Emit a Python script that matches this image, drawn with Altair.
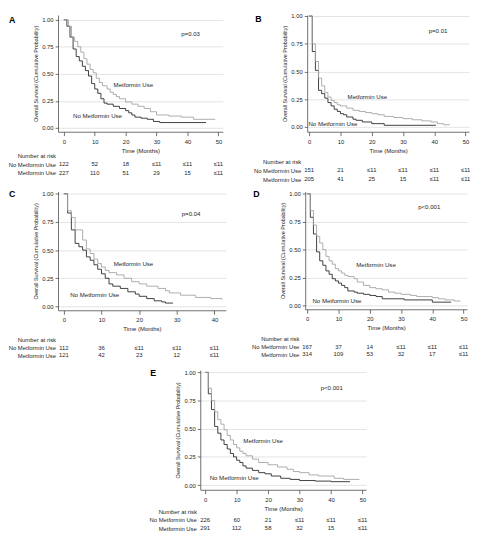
import altair as alt
import pandas as pd

# ------------------------------------------------------------------ data
GROUPS = ["No Metformin Use", "Metformin Use"]
RISK_ROWS = ["Number at risk", "No Metformin Use", "Metformin Use"]
Y_TICKS = [0, 0.25, 0.5, 0.75, 1.0]
Y_TITLE = "Overall Survival (Cumulative Probability)"
X_TITLE = "Time (Months)"
LABELS = ["Metformin Use", "No Metformin Use"]

# Panel A
A_no_t = [0, 1, 2, 3, 4, 5, 6, 7, 8, 9, 10, 11, 12, 13, 14, 16, 18, 20, 21, 22, 23, 25, 27, 29, 31, 46]
A_no_s = [1.0, 0.94, 0.84, 0.73, 0.66, 0.62, 0.57, 0.53, 0.48, 0.41, 0.36, 0.32, 0.27, 0.23, 0.22, 0.20, 0.18, 0.16, 0.14, 0.12, 0.10, 0.09, 0.08, 0.06, 0.05, 0.05]
A_met_t = [0, 1.5, 2.5, 3.5, 4.5, 5.5, 6.5, 7.5, 8.5, 9.5, 10.5, 11.5, 12.5, 14, 15, 16, 17, 18, 20, 22, 24, 26, 28, 30, 34, 38, 42, 49]
A_met_s = [1.0, 0.94, 0.84, 0.80, 0.75, 0.70, 0.64, 0.59, 0.54, 0.51, 0.46, 0.42, 0.39, 0.36, 0.33, 0.31, 0.29, 0.27, 0.24, 0.22, 0.20, 0.18, 0.15, 0.12, 0.11, 0.10, 0.08, 0.08]
A_risk_t = [0, 10, 20, 30, 40, 50]
A_risk_no = ["122", "52", "18", "≤11", "≤11", "≤11"]
A_risk_met = ["227", "110", "51", "29", "15", "≤11"]
A_p = "p=0.03"
A_note_x = [41.0, 22.5, 10.9]
A_note_y = [0.87, 0.395, 0.114]

# Panel B
B_no_t = [0, 1, 2, 3, 4, 5, 6, 7, 8, 9, 10, 11, 12, 14, 15, 17, 20, 24, 40.5]
B_no_s = [1.0, 0.68, 0.51, 0.33, 0.30, 0.26, 0.22, 0.19, 0.16, 0.14, 0.12, 0.11, 0.09, 0.07, 0.06, 0.045, 0.03, 0.015, 0.015]
B_met_t = [0, 1, 2, 3, 4, 5, 6, 7, 8, 9, 10, 12, 14, 16, 18, 20, 22, 24, 27, 30, 33, 36, 39, 41, 43, 45]
B_met_s = [1.0, 0.75, 0.59, 0.44, 0.37, 0.31, 0.27, 0.24, 0.22, 0.20, 0.19, 0.17, 0.15, 0.14, 0.13, 0.12, 0.11, 0.095, 0.085, 0.075, 0.065, 0.055, 0.045, 0.03, 0.02, 0.02]
B_risk_t = [0, 10, 20, 30, 40, 50]
B_risk_no = ["151", "21", "≤11", "≤11", "≤11", "≤11"]
B_risk_met = ["205", "41", "25", "15", "≤11", "≤11"]
B_p = "p=0.01"
B_note_x = [41.2, 18.6, 7.6]
B_note_y = [0.863, 0.274, 0.026]

# Panel C
C_no_t = [0, 1, 2, 3, 4, 5, 6, 7, 8, 9, 10, 11, 12, 13, 15, 17, 19, 20, 22, 24, 26, 27, 29]
C_no_s = [1.0, 0.83, 0.68, 0.56, 0.53, 0.50, 0.44, 0.41, 0.37, 0.33, 0.29, 0.25, 0.20, 0.18, 0.16, 0.13, 0.11, 0.09, 0.07, 0.05, 0.04, 0.03, 0.03]
C_met_t = [0, 1, 2, 3, 5, 6, 7, 8, 9, 10, 11, 12, 14, 16, 18, 20, 22, 25, 27, 28, 31, 35, 39, 42]
C_met_s = [1.0, 0.85, 0.79, 0.68, 0.59, 0.51, 0.47, 0.42, 0.38, 0.35, 0.32, 0.30, 0.28, 0.25, 0.22, 0.20, 0.18, 0.16, 0.14, 0.12, 0.10, 0.08, 0.07, 0.06]
C_risk_t = [0, 10, 20, 30, 40]
C_risk_no = ["112", "36", "≤11", "≤11", "≤11"]
C_risk_met = ["121", "42", "23", "12", "≤11"]
C_p = "p=0.04"
C_note_x = [33.8, 18.5, 8.2]
C_note_y = [0.82, 0.38, 0.10]

# Panel D
D_no_t = [0, 1, 2, 3, 4, 5, 6, 7, 8, 9, 10, 11, 12, 13, 15, 16, 18, 20, 22, 24, 31, 40, 46]
D_no_s = [1.0, 0.79, 0.64, 0.48, 0.40, 0.36, 0.31, 0.28, 0.24, 0.22, 0.20, 0.18, 0.16, 0.13, 0.12, 0.11, 0.10, 0.09, 0.08, 0.06, 0.05, 0.03, 0.03]
D_met_t = [0, 1, 2, 3, 4, 5, 6, 7, 8, 9, 10, 11, 12, 13, 15, 16, 18, 20, 22, 24, 26, 28, 30, 33, 35, 40, 42, 44, 47, 49]
D_met_s = [1.0, 0.85, 0.72, 0.62, 0.56, 0.50, 0.44, 0.40, 0.37, 0.33, 0.31, 0.29, 0.27, 0.26, 0.24, 0.21, 0.18, 0.16, 0.15, 0.14, 0.12, 0.11, 0.10, 0.09, 0.08, 0.07, 0.06, 0.05, 0.04, 0.04]
D_risk_t = [0, 10, 20, 30, 40, 50]
D_risk_no = ["167", "37", "14", "≤11", "≤11", "≤11"]
D_risk_met = ["314", "109", "53", "32", "17", "≤11"]
D_p = "p<0.001"
D_note_x = [39.0, 22.0, 9.5]
D_note_y = [0.88, 0.36, 0.043]

# Panel E
E_no_t = [0, 1, 2, 3, 4, 5, 6, 7, 8, 9, 10, 11, 12, 13, 15, 17, 19, 21, 24, 27, 30, 35, 40, 46]
E_no_s = [1.0, 0.81, 0.67, 0.52, 0.46, 0.40, 0.36, 0.32, 0.28, 0.25, 0.22, 0.20, 0.17, 0.15, 0.13, 0.11, 0.10, 0.08, 0.06, 0.05, 0.04, 0.035, 0.03, 0.03]
E_met_t = [0, 1, 2, 3, 4, 5, 6, 7, 8, 9, 10, 11, 12, 13, 15, 17, 20, 23, 26, 28, 30, 33, 36, 41, 44, 49]
E_met_s = [1.0, 0.86, 0.75, 0.65, 0.58, 0.54, 0.49, 0.44, 0.40, 0.36, 0.33, 0.30, 0.28, 0.26, 0.23, 0.20, 0.18, 0.16, 0.14, 0.12, 0.11, 0.09, 0.08, 0.06, 0.05, 0.05]
E_risk_t = [0, 10, 20, 30, 40, 50]
E_risk_no = ["226", "60", "21", "≤11", "≤11", "≤11"]
E_risk_met = ["291", "112", "58", "32", "15", "≤11"]
E_p = "p<0.001"
E_note_x = [40.2, 18.4, 9.2]
E_note_y = [0.864, 0.39, 0.06]

# ------------------------------------------------------------------ style
FONT = "Liberation Sans"
TXT = "#1e1e1e"
DARK = "#2a2a2a"
LIGHT = "#a3a3a3"
AXC = "#4a4a4a"
GRIDC = "#d0d0d0"

# w/h: plot size; step: risk row pitch; rs: gap plot->risk; ty: "Time" title offset
# lpad: risk label padding; ldx/ldy: panel-letter offset from the (start, 1.00) corner
LAYOUT = {
    "A": dict(xdom=[-1.87, 51.43], w=168, ydom=[-0.035, 1.044], h=119, step=8.7, rs=2.9, ty=-0.5, lpad=2.5, ldx=-50, ldy=0.3),
    "B": dict(xdom=[-0.63, 51.1], w=165, ydom=[-0.043, 1.009], h=119, step=9.2, rs=3.4, ty=-6.0, lpad=6.5, ldx=-53, ldy=3.4),
    "C": dict(xdom=[-1.54, 43.0], w=171, ydom=[-0.034, 1.02], h=121, step=8.0, rs=2.1, ty=-7.7, lpad=2.5, ldx=-50, ldy=0.5),
    "D": dict(xdom=[-0.63, 51.1], w=165, ydom=[-0.034, 1.02], h=120, step=8.0, rs=2.1, ty=-7.7, lpad=6.5, ldx=-53, ldy=0.5),
    "E": dict(xdom=[-1.56, 51.1], w=169, ydom=[-0.042, 1.02], h=122, step=8.5, rs=3.0, ty=1.3, lpad=4.0, ldx=-51, ldy=0.5),
}


def make_panel(letter, no_t, no_s, met_t, met_s, risk_t, risk_no, risk_met, p_text, note_x, note_y):
    L = LAYOUT[letter]
    xs = alt.Scale(domain=L["xdom"], nice=False, zero=False)
    ys = alt.Scale(domain=L["ydom"], nice=False, zero=False)
    X = alt.X("t:Q", scale=xs, axis=alt.Axis(
        values=risk_t, format="d", title=None, grid=False, labelOverlap=False, labelFlush=False,
        tickSize=4, tickWidth=0.8, domainWidth=0.8, domainColor=AXC, tickColor=AXC,
        labelPadding=2.5, labelFontSize=6, labelFont=FONT, labelColor=TXT))
    Y = alt.Y("s:Q", scale=ys, axis=alt.Axis(
        values=Y_TICKS, format=".2f", title=Y_TITLE, grid=True, gridColor=GRIDC, gridWidth=0.6,
        labelOverlap=False, labelFlush=False, tickSize=3, tickWidth=0.8, domainWidth=0.8,
        domainColor=AXC, tickColor=AXC, labelPadding=2, titlePadding=3, labelFontSize=6,
        titleFontSize=5.5, labelFont=FONT, titleFont=FONT, titleFontWeight="normal",
        labelColor=TXT, titleColor=TXT))
    curve_df = pd.DataFrame({
        "t": no_t + met_t,
        "s": no_s + met_s,
        "grp": [GROUPS[0]] * len(no_t) + [GROUPS[1]] * len(met_t),
    })
    lines = alt.Chart(curve_df).mark_line(interpolate="step-after", strokeWidth=0.9).encode(
        x=X, y=Y,
        color=alt.Color("grp:N", scale=alt.Scale(domain=GROUPS, range=[DARK, LIGHT]), legend=None),
    )
    note_df = pd.DataFrame({"t": note_x, "s": note_y, "label": [p_text] + LABELS})
    notes = alt.Chart(note_df).mark_text(font=FONT, fontSize=6.2, color=TXT).encode(
        x=X, y=Y, text="label:N")
    letter_df = pd.DataFrame({"t": [L["xdom"][0]], "s": [1.0], "label": [letter]})
    tag = alt.Chart(letter_df).mark_text(
        font=FONT, fontSize=9, fontWeight="bold", color="#000000", align="left",
        baseline="middle", dx=L["ldx"], dy=L["ldy"]).encode(x=X, y=Y, text="label:N")
    plot = alt.layer(lines, notes, tag).properties(width=L["w"], height=L["h"])

    n = len(risk_t)
    risk_df = pd.DataFrame({
        "t": risk_t * 2,
        "row": [RISK_ROWS[1]] * n + [RISK_ROWS[2]] * n,
        "val": risk_no + risk_met,
    })
    risk = alt.Chart(risk_df).mark_text(font=FONT, fontSize=6, color=TXT).encode(
        x=alt.X("t:Q", scale=xs, axis=alt.Axis(
            orient="top", title=X_TITLE, labels=False, ticks=False, domain=False, grid=False,
            titleY=L["ty"], titleBaseline="middle", titleFont=FONT, titleFontSize=6.1,
            titleFontWeight="normal", titleColor=TXT)),
        y=alt.Y("row:N", scale=alt.Scale(domain=RISK_ROWS), axis=alt.Axis(
            title=None, domain=False, ticks=False, labelPadding=L["lpad"], labelFont=FONT,
            labelFontSize=6, labelColor=TXT, labelLimit=300)),
        text="val:N",
    ).properties(width=L["w"], height=3 * L["step"])
    return alt.vconcat(plot, risk, spacing=L["rs"])


pA = make_panel("A", A_no_t, A_no_s, A_met_t, A_met_s, A_risk_t, A_risk_no, A_risk_met, A_p, A_note_x, A_note_y)
pB = make_panel("B", B_no_t, B_no_s, B_met_t, B_met_s, B_risk_t, B_risk_no, B_risk_met, B_p, B_note_x, B_note_y)
pC = make_panel("C", C_no_t, C_no_s, C_met_t, C_met_s, C_risk_t, C_risk_no, C_risk_met, C_p, C_note_x, C_note_y)
pD = make_panel("D", D_no_t, D_no_s, D_met_t, D_met_s, D_risk_t, D_risk_no, D_risk_met, D_p, D_note_x, D_note_y)
pE = make_panel("E", E_no_t, E_no_s, E_met_t, E_met_s, E_risk_t, E_risk_no, E_risk_met, E_p, E_note_x, E_note_y)

spacer = alt.Chart(pd.DataFrame({"v": [0]})).mark_point(opacity=0, size=1).encode(
    x=alt.X("v:Q", axis=None), y=alt.Y("v:Q", axis=None)
).properties(width=92, height=1)

row0 = alt.hconcat(pA, pB, spacing=30)
row1 = alt.hconcat(pC, pD, spacing=26)
row2 = alt.hconcat(spacer, pE, spacing=0)

chart = alt.vconcat(alt.vconcat(row0, row1, spacing=6), row2, spacing=8).properties(
    padding=0, background="white"
).configure_view(stroke=None)

chart.save("out.html", embed_options={"renderer": "svg", "actions": False})
